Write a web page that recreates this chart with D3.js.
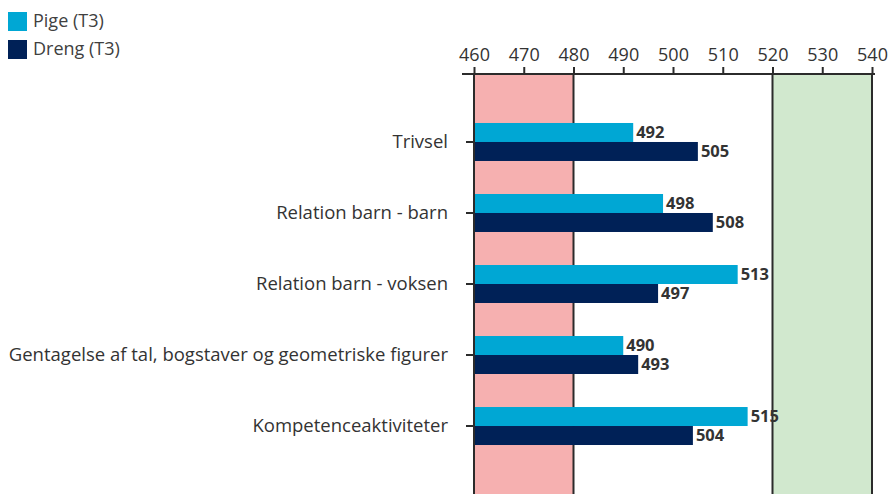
<html>
  <head>
    <script src="https://d3js.org/d3.v7.min.js"></script>
    <style>
      body { margin: 0; background: white; }
      text { font-family: "Open Sans", "Liberation Sans", sans-serif; }
    </style>
  </head>
  <body>
    <script type="text/javascript">
      // input data
      var categories = [
        "Trivsel",
        "Relation barn - barn",
        "Relation barn - voksen",
        "Gentagelse af tal, bogstaver og geometriske figurer",
        "Kompetenceaktiviteter"
      ];
      var seriesNames = ["Pige (T3)", "Dreng (T3)"];
      var pige = [492, 498, 513, 490, 515];
      var dreng = [505, 508, 497, 493, 504];
      var xTicks = [460, 470, 480, 490, 500, 510, 520, 530, 540];
      var bands = [
        {from: 460, to: 480, color: "#f6b0b0"},
        {from: 520, to: 540, color: "#d1e8ce"}
      ];
      var colors = ["#00a7d4", "#002157"];

      var width = 889;
      var height = 494;
      var axisY = 74;

      var svg = d3.select("body").append("svg")
        .attr("width", width)
        .attr("height", height);

      var x = d3.scaleLinear()
        .domain([460, 540])
        .range([474, 872]);

      var y = d3.scaleBand()
        .domain(categories)
        .range([axisY, height])
        .paddingInner(0.465)
        .paddingOuter(0.69);

      var sub = d3.scaleBand()
        .domain(seriesNames)
        .range([0, y.bandwidth()]);

      // background bands
      bands.forEach(function (b) {
        svg.append("rect")
          .attr("x", x(b.from))
          .attr("y", axisY)
          .attr("width", x(b.to) - x(b.from))
          .attr("height", height - axisY)
          .attr("fill", b.color);
      });

      // band borders
      [480, 520, 540].forEach(function (v) {
        svg.append("line")
          .attr("x1", x(v)).attr("x2", x(v))
          .attr("y1", axisY).attr("y2", height)
          .attr("stroke", "#2b2b2b")
          .attr("stroke-width", 2);
      });

      // bars
      var series = [pige, dreng];
      series.forEach(function (vals, s) {
        categories.forEach(function (c, i) {
          var by = y(c) + sub(seriesNames[s]);
          svg.append("rect")
            .attr("x", x(460))
            .attr("y", by)
            .attr("width", x(vals[i]) - x(460))
            .attr("height", sub.bandwidth())
            .attr("fill", colors[s]);
          svg.append("text")
            .attr("x", x(vals[i]) + 3)
            .attr("y", by + sub.bandwidth() / 2)
            .attr("dy", "0.36em")
            .attr("font-size", 16.5)
            .attr("font-weight", "bold")
            .attr("fill", "#333")
            .text(vals[i]);
        });
      });

      // top axis
      var xAxisGroup = svg.append("g")
        .attr("class", "xAxisGroup")
        .attr("transform", "translate(0," + axisY + ")");
      var xAxis = d3.axisTop(x)
        .tickValues(xTicks)
        .tickSize(7)
        .tickPadding(6)
        .tickSizeOuter(0);
      xAxis(xAxisGroup);
      xAxisGroup.select(".domain").remove();
      xAxisGroup.append("line")
        .attr("x1", 462).attr("x2", 875)
        .attr("stroke", "#2b2b2b").attr("stroke-width", 2);
      xAxisGroup.selectAll(".tick line").attr("stroke", "#2b2b2b").attr("stroke-width", 2);
      xAxisGroup.selectAll(".tick text")
        .attr("font-size", 18)
        .attr("font-family", "'Open Sans', sans-serif")
        .attr("fill", "#333");

      // left axis
      var yAxisGroup = svg.append("g")
        .attr("class", "yAxisGroup")
        .attr("transform", "translate(" + x(460) + ",0)");
      var yAxis = d3.axisLeft(y)
        .tickSize(8)
        .tickPadding(18)
        .tickSizeOuter(0);
      yAxis(yAxisGroup);
      yAxisGroup.select(".domain").remove();
      yAxisGroup.append("line")
        .attr("y1", axisY).attr("y2", height)
        .attr("stroke", "#2b2b2b").attr("stroke-width", 2);
      yAxisGroup.selectAll(".tick line").attr("stroke", "#2b2b2b").attr("stroke-width", 2);
      yAxisGroup.selectAll(".tick text")
        .attr("font-size", 18.5)
        .attr("font-family", "'Open Sans', sans-serif")
        .attr("fill", "#333");

      // legend
      var legend = svg.append("g");
      seriesNames.forEach(function (n, i) {
        legend.append("rect")
          .attr("x", 8)
          .attr("y", 12 + i * 28)
          .attr("width", 19)
          .attr("height", 19)
          .attr("fill", colors[i]);
        legend.append("text")
          .attr("x", 33)
          .attr("y", 21 + i * 28)
          .attr("dy", "0.36em")
          .attr("font-size", 18)
          .attr("fill", "#404040")
          .text(n);
      });
    </script>
  </body>
</html>
